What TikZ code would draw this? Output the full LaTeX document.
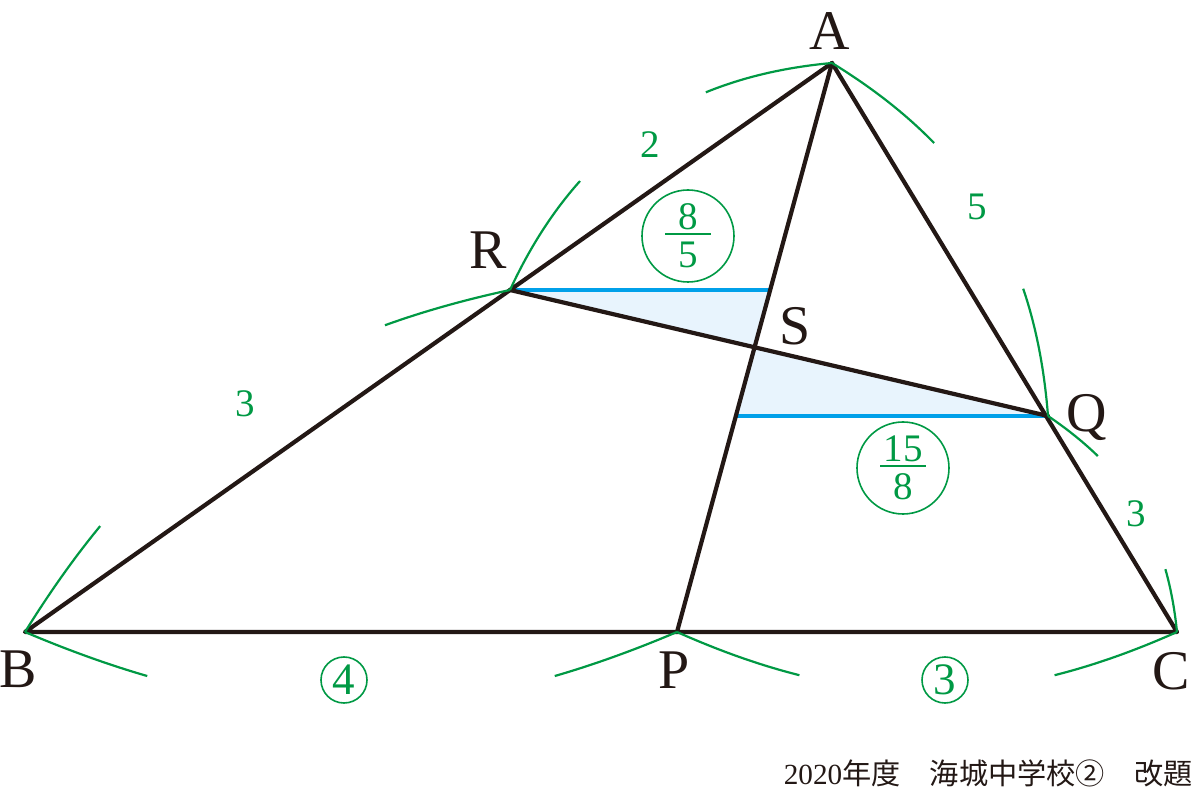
\documentclass[tikz,border=0pt]{standalone}
\usepackage{fontspec}
\setmainfont{Liberation Serif}
\newfontfamily\cjk{Noto Sans CJK JP}
\usetikzlibrary{calc}
\definecolor{gr}{RGB}{0,153,68}
\definecolor{bl}{RGB}{0,160,233}
\definecolor{lb}{RGB}{232,244,253}
\definecolor{ink}{RGB}{35,24,21}
\newcommand\gfrac[2]{\vbox{\hbox to 23pt{\hss#1\hss}\kern1.5pt\hrule height 1pt\kern3.5pt\hbox to 23pt{\hss#2\hss}}}
\tikzset{
  edge/.style={draw=ink, line width=2.1pt, line join=round, line cap=round},
  arcpiece/.style={draw=gr, line width=1.1pt, dash pattern=on 65pt off 3000pt},
  shortpiece/.style={draw=gr, line width=1.1pt, dash pattern=on 32pt off 3000pt},
  vlabel/.style={text=ink, font=\fontsize{28}{30}\selectfont, inner sep=0pt, anchor=base},
  glabel/.style={text=gr, font=\fontsize{19.5}{21}\selectfont, inner sep=0pt},
  cnum/.style={circle, draw=gr, line width=0.8pt, text=gr, minimum size=23pt, inner sep=0pt, font=\fontsize{22.5}{24}\selectfont},
  cfracnode/.style={circle, draw=gr, line width=0.8pt, text=gr, minimum size=46pt, inner sep=0pt, font=\fontsize{19.5}{21}\selectfont},
  bluefill/.style={fill=lb, draw=none},
  blueline/.style={draw=bl, line width=2.3pt},
}
\begin{document}
\begin{tikzpicture}[x=0.5pt,y=-0.5pt]
\useasboundingbox (0,0) rectangle (1200,796);
% points
\coordinate (A) at (832,63);
\coordinate (B) at (25,632);
\coordinate (C) at (1177,632);
\coordinate (P) at (677,632);
\coordinate (Q) at (1048,416);
\coordinate (R) at (510,290);
\coordinate (S) at (intersection of A--P and R--Q);
\coordinate (T1) at (770,290);
\coordinate (T2) at (736,416);
% shaded triangles
\fill[bluefill] (R) -- (T1) -- (S) -- cycle;
\fill[bluefill] (S) -- (T2) -- (Q) -- cycle;
\draw[blueline] (R) -- (T1);
\draw[blueline] (T2) -- (Q);
% black lines
\draw[edge] (A) -- (B) -- (C) -- cycle;
\draw[edge] (A) -- (P);
\draw[edge] (R) -- (Q);
% green arc marks
\draw[arcpiece] (B) to[bend right=23] (P);
\draw[arcpiece] (P) to[bend left=23] (B);
\draw[arcpiece] (P) to[bend right=24] (C);
\draw[arcpiece] (C) to[bend left=24] (P);
\draw[arcpiece] (B) to[bend left=23] (R);
\draw[arcpiece] (R) to[bend right=23] (B);
\draw[arcpiece] (R) to[bend left=30] (A);
\draw[arcpiece] (A) to[bend right=30] (R);
\draw[arcpiece] (A) to[bend left=27] (Q);
\draw[arcpiece] (Q) to[bend right=27] (A);
\draw[shortpiece] (Q) to[bend left=25] (C);
\draw[shortpiece] (C) to[bend right=25] (Q);
% vertex labels
\node[vlabel] (lA) at (830,50) {A};
\node[vlabel] (lB) at (18,687) {B};
\node[vlabel] (lC) at (1171,689) {C};
\node[vlabel] (lP) at (674,688) {P};
\node[vlabel] (lQ) at (1087,432) {Q};
\node[vlabel] (lR) at (488,269) {R};
\node[vlabel] (lS) at (795,345) {S};
% green numbers
\node[glabel] (n2) at (650,145) {2};
\node[glabel] (n5) at (977,207) {5};
\node[glabel] (n3a) at (245,404) {3};
\node[glabel] (n3b) at (1136,514) {3};
\node[cnum] (c4) at (344,680) {4};
\node[cnum] (c3) at (945,680) {3};
\node[cfracnode] (f85) at (688,236) {\gfrac{8}{5}};
\node[cfracnode] (f158) at (903,468) {\gfrac{15}{8}};
% footer
\node[anchor=base east, inner sep=0pt, text=ink, font=\fontsize{14.6}{16}\selectfont] (ft) at (1193,784) {2020{\cjk 年度　海城中学校②　改題}};
\end{tikzpicture}
\end{document}
